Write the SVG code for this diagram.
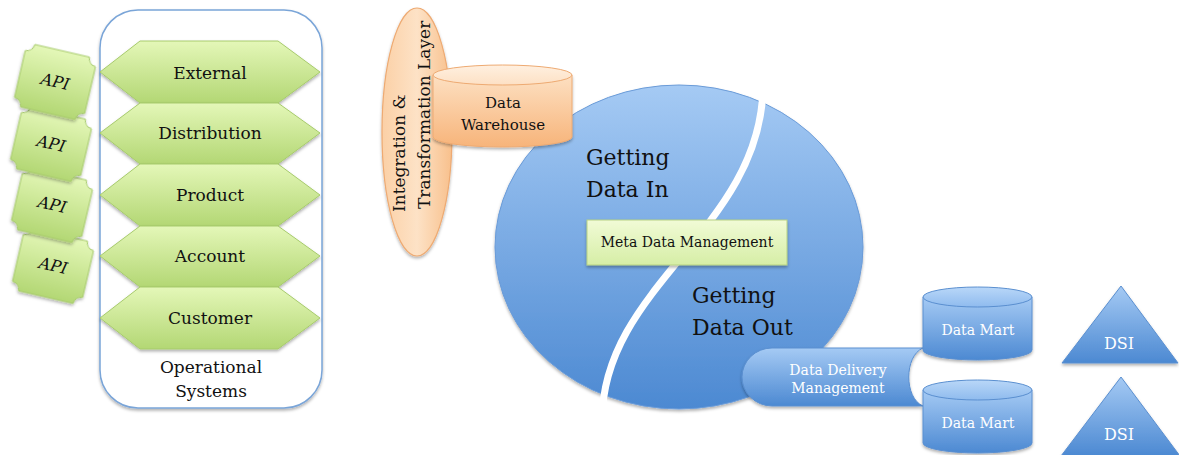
<svg xmlns="http://www.w3.org/2000/svg" width="1179" height="455" viewBox="0 0 1179 455">
<defs>
<linearGradient id="gGreen" x1="0" y1="0" x2="0" y2="1"><stop offset="0" stop-color="#e4f7b8"/><stop offset="1" stop-color="#b3d774"/></linearGradient>
<linearGradient id="gMeta" x1="0" y1="0" x2="0" y2="1"><stop offset="0" stop-color="#f1fbd6"/><stop offset="1" stop-color="#d6eea6"/></linearGradient>
<linearGradient id="gOrange" x1="0" y1="0" x2="0" y2="1"><stop offset="0" stop-color="#fde0c2"/><stop offset="1" stop-color="#f7b47a"/></linearGradient>
<linearGradient id="gOrangeH" x1="0" y1="0" x2="1" y2="0"><stop offset="0" stop-color="#fbd0a6"/><stop offset="0.5" stop-color="#fde2c6"/><stop offset="1" stop-color="#f8c08c"/></linearGradient>
<linearGradient id="gBlue" x1="0" y1="0" x2="0" y2="1"><stop offset="0" stop-color="#a5caf4"/><stop offset="1" stop-color="#4c89d2"/></linearGradient>
<linearGradient id="gBlueTop" x1="0" y1="0" x2="0" y2="1"><stop offset="0" stop-color="#b9d7f8"/><stop offset="1" stop-color="#8fbbee"/></linearGradient>
<linearGradient id="gOrangeTop" x1="0" y1="0" x2="0" y2="1"><stop offset="0" stop-color="#fff0e0"/><stop offset="1" stop-color="#fde0c4"/></linearGradient>
<filter id="sh" x="-15%" y="-15%" width="130%" height="135%"><feDropShadow dx="0" dy="2" stdDeviation="1.8" flood-color="#000" flood-opacity="0.3"/></filter>
<path id="plaque" d="M -28 -32 H 28 A 8 8 0 0 0 36 -24 V 24 A 8 8 0 0 0 28 32 H -28 A 8 8 0 0 0 -36 24 V -24 A 8 8 0 0 0 -28 -32 Z"/>
</defs>
<style>
.t{font-family:"DejaVu Serif","Liberation Serif",serif;fill:#111}
.w{font-family:"DejaVu Serif","Liberation Serif",serif;fill:#fff}
.hex{fill:url(#gGreen);stroke:#a7cb6c;stroke-width:1;filter:url(#sh)}
.api{fill:url(#gGreen);stroke:#a7cb6c;stroke-width:1;filter:url(#sh)}
.blue{fill:url(#gBlue);stroke:#5a8fd0;stroke-width:1}
.bluetop{fill:url(#gBlueTop);stroke:#5a8fd0;stroke-width:1}
</style>

<g id="operational-systems">
<rect x="100" y="10" width="222" height="398" rx="38" ry="38" fill="#fff" stroke="#7aa5d8" stroke-width="1.5" filter="url(#sh)"/>
<text class="t" x="211" y="373" font-size="17" text-anchor="middle">Operational</text>
<text class="t" x="211" y="397" font-size="17" text-anchor="middle">Systems</text>
</g>

<g id="hex-external"><polygon class="hex" points="100,72 140,41 278,41 320,72 278,103 140,103"/><text class="t" x="210" y="79" font-size="17" text-anchor="middle">External</text></g>
<g id="hex-distribution"><polygon class="hex" points="100,133 140,103 278,103 320,133 278,164 140,164"/><text class="t" x="210" y="139" font-size="17" text-anchor="middle">Distribution</text></g>
<g id="hex-product"><polygon class="hex" points="100,195 140,164 278,164 320,195 278,226 140,226"/><text class="t" x="210" y="201" font-size="17" text-anchor="middle">Product</text></g>
<g id="hex-account"><polygon class="hex" points="100,256 140,226 278,226 320,256 278,287 140,287"/><text class="t" x="210" y="262" font-size="17" text-anchor="middle">Account</text></g>
<g id="hex-customer"><polygon class="hex" points="100,318 140,287 278,287 320,318 278,349 140,349"/><text class="t" x="210" y="324" font-size="17" text-anchor="middle">Customer</text></g>

<g id="api-4" transform="translate(53,266) rotate(13)"><use href="#plaque" class="api"/><text class="t" x="0" y="5" font-size="16" font-style="italic" text-anchor="middle">API</text></g>
<g id="api-3" transform="translate(52,205) rotate(13)"><use href="#plaque" class="api"/><text class="t" x="0" y="5" font-size="16" font-style="italic" text-anchor="middle">API</text></g>
<g id="api-2" transform="translate(51,144) rotate(13)"><use href="#plaque" class="api"/><text class="t" x="0" y="5" font-size="16" font-style="italic" text-anchor="middle">API</text></g>
<g id="api-1" transform="translate(55,82) rotate(13)"><use href="#plaque" class="api"/><text class="t" x="0" y="5" font-size="16" font-style="italic" text-anchor="middle">API</text></g>

<g id="integration-layer">
<ellipse cx="417" cy="132" rx="35" ry="124" fill="url(#gOrangeH)" stroke="#eeaa72" stroke-width="1.2" filter="url(#sh)"/>
<text class="t" transform="translate(405,212) rotate(-90)" font-size="17">Integration &amp;</text>
<text class="t" transform="translate(430,209) rotate(-90)" font-size="17">Transformation Layer</text>
</g>

<g id="data-in-out">
<ellipse cx="679" cy="247" rx="184" ry="162" fill="url(#gBlue)" stroke="#6a9bd8" stroke-width="1" filter="url(#sh)"/>
<path d="M 763 88 C 760 230, 603 285, 602 420" fill="none" stroke="#fff" stroke-width="7"/>
<text class="t" x="586" y="165" font-size="22">Getting</text>
<text class="t" x="586" y="197" font-size="22">Data In</text>
<text class="t" x="692" y="303" font-size="22">Getting</text>
<text class="t" x="692" y="335" font-size="22">Data Out</text>
</g>

<g id="data-warehouse">
<path d="M 433 75 V 137 A 69.5 10 0 0 0 572 137 V 75 Z" fill="url(#gOrange)" stroke="#eeaa72" stroke-width="1" filter="url(#sh)"/>
<ellipse cx="502.5" cy="75" rx="69.5" ry="10" fill="url(#gOrangeTop)" stroke="#eeaa72" stroke-width="1"/>
<text class="t" x="503" y="108" font-size="15" text-anchor="middle">Data</text>
<text class="t" x="503" y="130" font-size="15" text-anchor="middle">Warehouse</text>
</g>

<g id="meta-data-management">
<rect x="587" y="220" width="200" height="45" fill="url(#gMeta)" stroke="#b7d283" stroke-width="1" filter="url(#sh)"/>
<text class="t" x="687" y="247" font-size="14" text-anchor="middle">Meta Data Management</text>
</g>

<g id="data-delivery-management">
<path d="M 772 348 H 923 C 904 356 904 398 923 406 H 772 A 30 29 0 0 1 772 348 Z" class="blue" filter="url(#sh)"/>
<text class="w" x="838" y="375" font-size="14" text-anchor="middle">Data Delivery</text>
<text class="w" x="838" y="393" font-size="14" text-anchor="middle">Management</text>
</g>

<g id="data-mart-1">
<path d="M 923 297 V 350 A 54.5 10 0 0 0 1032 350 V 297 Z" class="blue" filter="url(#sh)"/>
<ellipse cx="977.5" cy="297" rx="54.5" ry="10" class="bluetop"/>
<text class="w" x="978" y="335" font-size="14" text-anchor="middle">Data Mart</text>
</g>
<g id="data-mart-2">
<path d="M 923 390 V 443 A 54.5 10 0 0 0 1032 443 V 390 Z" class="blue" filter="url(#sh)"/>
<ellipse cx="977.5" cy="390" rx="54.5" ry="10" class="bluetop"/>
<text class="w" x="978" y="428" font-size="14" text-anchor="middle">Data Mart</text>
</g>

<g id="dsi-1">
<polygon points="1121,286 1178,363 1062,363" class="blue" filter="url(#sh)"/>
<text class="w" x="1119" y="349" font-size="16" text-anchor="middle">DSI</text>
</g>
<g id="dsi-2">
<polygon points="1121,377 1180,456 1061,456" class="blue" filter="url(#sh)"/>
<text class="w" x="1119" y="440" font-size="16" text-anchor="middle">DSI</text>
</g>

<g id="connectors"></g>
</svg>
